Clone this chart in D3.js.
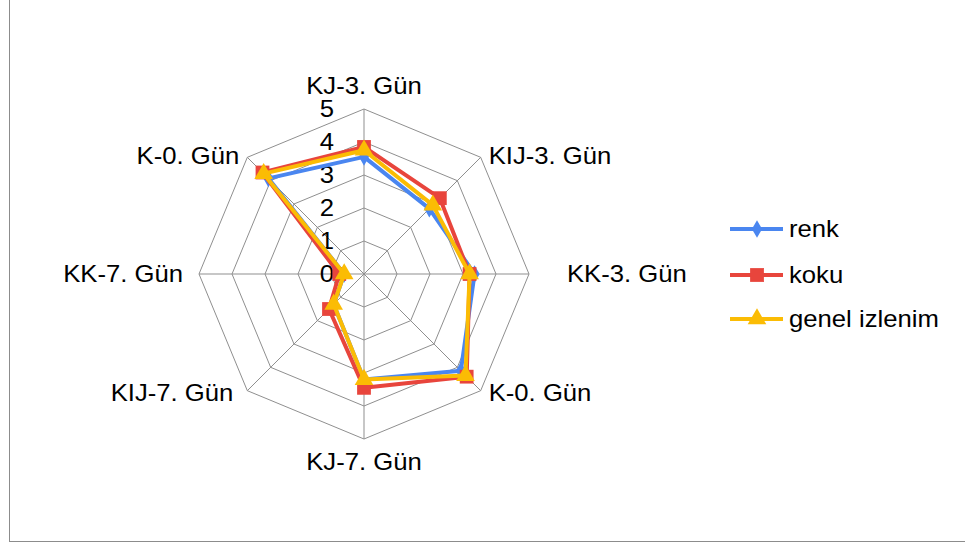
<!DOCTYPE html>
<html>
<head>
<meta charset="utf-8">
<script src="https://cdn.jsdelivr.net/npm/d3@7"></script>
<style>
  html, body { margin: 0; padding: 0; background: #fff; }
  svg { display: block; }
  text { font-family: "Liberation Sans", Arial, sans-serif; fill: #000; }
</style>
</head>
<body>
<svg id="chart" width="965" height="551"></svg>
<script>
// Sensory scores per sample/day
const categories = ["KJ-3. Gün", "KIJ-3. Gün", "KK-3. Gün", "K-0. Gün", "KJ-7. Gün", "KIJ-7. Gün", "KK-7. Gün", "K-0. Gün"];
const renk  = [3.55, 2.8, 3.35, 4.15, 3.2, 1.3, 0.6, 4.1];
const koku  = [3.85, 3.25, 3.2, 4.4, 3.45, 1.5, 0.75, 4.35];
const genel = [3.75, 2.95, 3.2, 4.35, 3.2, 1.3, 0.6, 4.3];
const seriesNames = ["renk", "koku", "genel izlenim"];
const tickValues = [0, 1, 2, 3, 4, 5];

const series = [
  { name: seriesNames[0], values: renk,  color: "#4a86f0", marker: "diamond" },
  { name: seriesNames[1], values: koku,  color: "#e8453c", marker: "square" },
  { name: seriesNames[2], values: genel, color: "#fbbc04", marker: "triangle" }
];

const svg = d3.select("#chart");
const W = 965, H = 551;
const cx = 364, cy = 274, R = 165;
const fontSize = 24, stretch = 1.07;

// outer frame
svg.append("rect").attr("x", 9.5).attr("y", -2).attr("width", W + 10).attr("height", 543.5)
  .attr("fill", "none").attr("stroke", "#8c8c8c").attr("stroke-width", 1);

const r = d3.scaleLinear().domain([0, 5]).range([0, R]);
const angle = d3.scaleLinear().domain([0, categories.length]).range([0, 2 * Math.PI]);
const pt = (i, v) => [cx + r(v) * Math.sin(angle(i)), cy - r(v) * Math.cos(angle(i))];

const grid = svg.append("g").attr("stroke", "#8f8f8f").attr("stroke-width", 1).attr("fill", "none");
// rings
tickValues.filter(t => t > 0).forEach(t => {
  grid.append("path").attr("d", d3.line()(categories.map((c, i) => pt(i, t))) + "Z");
});
// spokes
categories.forEach((c, i) => {
  const [x, y] = pt(i, 5);
  grid.append("line").attr("x1", cx).attr("y1", cy).attr("x2", x).attr("y2", y);
});

function label(x, y, str, anchor) {
  svg.append("text")
    .attr("transform", `translate(${x},${y}) scale(${stretch},1)`)
    .attr("text-anchor", anchor)
    .attr("dominant-baseline", "central")
    .attr("font-size", fontSize)
    .text(str);
}

// tick labels along the top spoke
tickValues.forEach(t => label(cx - 30, cy - r(t), String(t), "end"));

// category labels around the web
const labelGap = [23, 8, 38, 8, 23, 14, 16, 8];
categories.forEach((c, i) => {
  const a = angle(i);
  const [x, y] = pt(i, 5);
  const s = Math.sin(a), co = Math.cos(a);
  let anchor = Math.abs(s) < 0.01 ? "middle" : (s > 0 ? "start" : "end");
  const g = labelGap[i];
  let lx = x + (Math.abs(s) < 0.01 ? 0 : Math.sign(s) * g);
  let ly = y;
  if (Math.abs(s) < 0.01) ly = y - Math.sign(co) * g;
  else if (Math.abs(co) > 0.01) ly = y - Math.sign(co) * 2;
  label(lx, ly, c, anchor);
});

const symbolFor = {
  diamond: d3.symbol().type(d3.symbolDiamond).size(90),
  square: d3.symbol().type(d3.symbolSquare).size(190),
  triangle: d3.symbol().type(d3.symbolTriangle).size(150)
};

// series lines and markers
series.forEach(s => {
  const pts = s.values.map((v, i) => pt(i, v));
  svg.append("path")
    .attr("d", d3.line()(pts) + "Z")
    .attr("fill", "none").attr("stroke", s.color).attr("stroke-width", 4)
    .attr("stroke-linejoin", "round");
  svg.append("g").selectAll("path").data(pts).join("path")
    .attr("transform", d => `translate(${d[0]},${d[1]})`)
    .attr("d", symbolFor[s.marker]())
    .attr("fill", s.color);
});

// legend
const legendY = [229, 275, 319];
series.forEach((s, k) => {
  const y = legendY[k];
  svg.append("line").attr("x1", 730).attr("x2", 783).attr("y1", y).attr("y2", y)
    .attr("stroke", s.color).attr("stroke-width", 4);
  svg.append("path").attr("transform", `translate(757,${y})`)
    .attr("d", symbolFor[s.marker]()).attr("fill", s.color);
  label(789, y, s.name, "start");
});
</script>
</body>
</html>
